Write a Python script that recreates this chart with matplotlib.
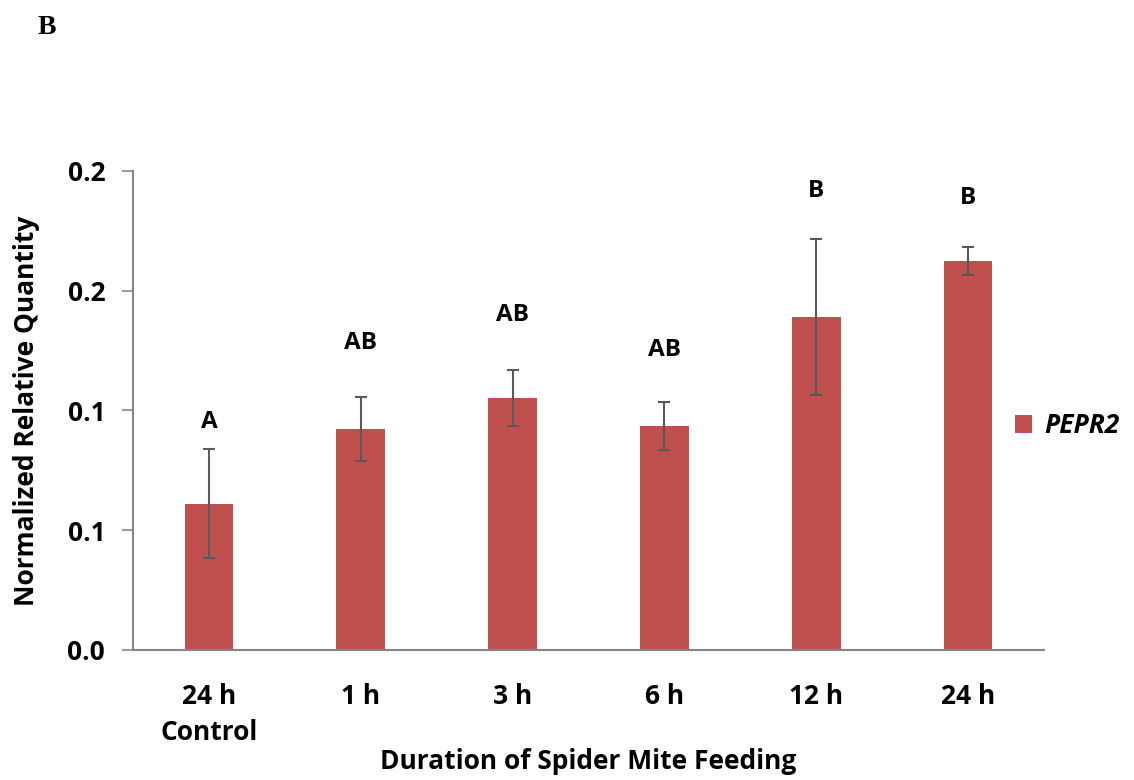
import matplotlib.pyplot as plt

# data
groups = ["24 h\nControl", "1 h", "3 h", "6 h", "12 h", "24 h"]
pepr2 = [0.061, 0.0923, 0.1052, 0.0935, 0.139, 0.1624]
pepr2_err = [0.0228, 0.0134, 0.0117, 0.0100, 0.0324, 0.0060]
letters = ["A", "AB", "AB", "AB", "B", "B"]
letter_y = [0.0952, 0.1282, 0.1399, 0.1253, 0.1916, 0.1887]
yticks = [0, 0.05, 0.1, 0.15, 0.2]
ytick_labels = ["0.0", "0.1", "0.1", "0.2", "0.2"]

bar_color = "#C0504D"
axis_color = "#868686"
plt.rcParams["font.family"] = ["Open Sans", "DejaVu Sans"]
fs = 19

fig = plt.figure(figsize=(11.34, 7.8), dpi=100)
ax = fig.add_axes([0.1173, 0.1667, 0.8033, 0.6141])

x = list(range(len(groups)))
ax.bar(x, pepr2, width=0.32, color=bar_color, label="PEPR2", zorder=2)
ax.errorbar(x, pepr2, yerr=pepr2_err, fmt="none", ecolor="#595959",
            elinewidth=1.5, capsize=4, capthick=1.5, zorder=3)

for xi, lab, ly in zip(x, letters, letter_y):
    ax.text(xi, ly, lab, ha="center", va="center", fontsize=17.5, fontweight="bold")

ax.set_xlim(-0.5, len(groups) - 0.5)
ax.set_ylim(0, 0.2)
ax.set_yticks(yticks)
ax.set_yticklabels(ytick_labels)
ax.set_xticks(x)
ax.set_xticklabels(groups, linespacing=1.4)
ax.tick_params(axis="y", direction="out", length=8, width=1.2, color=axis_color,
               labelsize=fs, pad=12)
ax.tick_params(axis="x", length=0, labelsize=fs, pad=24)
for lbl in ax.get_xticklabels() + ax.get_yticklabels():
    lbl.set_fontweight("bold")

for side in ["top", "right"]:
    ax.spines[side].set_visible(False)
for side in ["left", "bottom"]:
    ax.spines[side].set_color(axis_color)
    ax.spines[side].set_linewidth(1.5)

ax.set_xlabel("Duration of Spider Mite Feeding", fontsize=fs, fontweight="bold", labelpad=2)
ax.set_ylabel("Normalized Relative Quantity", fontsize=fs, fontweight="bold", labelpad=20)

leg = fig.legend(loc="center left", bbox_to_anchor=(0.874, 0.454), frameon=False,
                 handlelength=0.65, handleheight=0.65, handletextpad=0.45,
                 prop={"size": fs, "weight": "bold", "style": "italic"})

fig.text(0.033, 0.965, "B", fontsize=20, fontweight="bold", family="Liberation Serif",
         va="center")

fig.savefig("out.png", dpi=100)
